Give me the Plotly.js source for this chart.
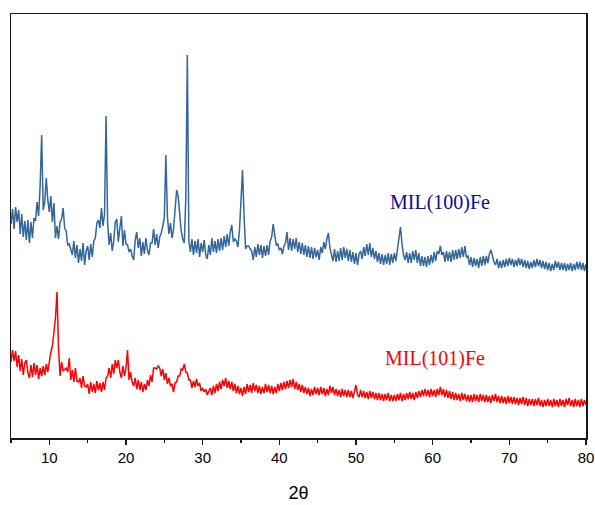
<!DOCTYPE html>
<html>
<head>
<meta charset="utf-8">
<script src="https://cdn.plot.ly/plotly-3.0.1.min.js"></script>
<style>html,body{margin:0;padding:0;background:#fff;}#chart{width:595px;height:505px;}</style>
</head>
<body>
<div id="chart"></div>
<script>
// 2θ sampling: start and step of the digitised patterns (degrees)
const twoThetaStart = 5;
const twoThetaStep = 0.2;
const xTickValues = [10, 20, 30, 40, 50, 60, 70, 80];

// MIL(100)Fe intensity (arbitrary units, offset trace), one value per 0.2° from 5° to 80°
const mil100Fe = [
  214,229,209,231,216,228,204,224,201,217,
  198,218,195,216,200,220,217,236,222,252,
  303,228,236,260,238,226,242,216,235,200,
  212,199,216,219,230,210,207,193,194,187,
  183,197,180,193,175,189,177,195,173,187,
  192,178,194,181,197,200,215,218,210,230,
  212,224,322,216,193,205,187,197,216,219,
  196,210,222,192,208,194,193,186,189,182,
  178,198,206,190,200,182,196,184,200,188,
  183,195,195,209,193,204,190,201,205,212,
  220,283,222,204,215,200,209,228,248,242,
  224,207,199,195,240,383,197,186,199,183,
  197,185,199,181,195,186,198,183,179,193,
  183,200,186,197,185,199,187,200,188,202,
  191,204,192,206,213,196,199,197,191,208,
  238,268,222,189,192,192,189,187,178,191,
  181,194,183,193,180,192,182,193,183,197,
  201,214,203,193,194,188,190,184,192,195,
  206,188,200,187,199,189,200,186,196,184,
  195,183,193,181,192,180,191,179,190,181,
  188,178,191,185,196,189,199,205,190,182,
  177,189,176,187,177,190,178,191,180,189,
  177,188,176,186,174,185,173,184,187,179,
  191,182,194,183,195,181,190,179,187,176,
  185,174,184,173,183,174,185,173,184,175,
  185,177,190,202,211,194,183,178,186,175,
  185,175,187,178,188,175,185,172,182,172,
  181,171,182,173,183,175,186,177,187,184,
  192,183,186,176,187,177,186,176,188,178,
  188,179,189,180,191,181,192,181,182,173,
  181,171,180,172,179,170,181,172,182,173,
  182,175,184,188,181,176,173,179,170,177,
  170,178,171,179,172,180,173,179,171,178,
  172,180,173,179,171,178,170,177,169,176,
  170,178,171,179,172,178,170,177,169,176,
  168,175,167,174,168,177,170,176,168,175,
  168,175,167,174,168,175,167,174,168,176,
  169,176,168,175,167,174
];

// MIL(101)Fe intensity (arbitrary units), one value per 0.2° from 5° to 80°
const mil101Fe = [
  76,88,77,87,71,83,67,79,63,75,
  78,65,60,73,61,75,63,73,59,70,
  62,72,63,74,66,77,86,92,104,120,
  146,90,62,76,67,69,70,66,80,58,
  68,56,70,57,56,60,50,62,52,51,
  54,44,56,46,54,45,57,48,55,46,
  56,48,60,62,70,60,74,64,78,70,
  78,66,60,72,62,70,88,58,66,56,
  52,60,49,58,48,56,46,54,48,58,
  52,63,56,70,70,69,72,70,62,69,
  58,65,54,60,52,54,46,55,56,62,
  62,69,68,74,66,65,58,58,50,57,
  51,59,52,55,47,50,46,49,43,47,
  50,43,52,45,54,47,56,49,58,52,
  60,50,57,49,56,47,54,45,52,44,
  50,42,51,44,54,46,53,45,55,47,
  53,45,52,44,51,45,54,46,53,45,
  52,44,51,45,54,47,55,48,56,49,
  57,50,58,51,59,49,56,48,54,46,
  53,45,51,44,50,42,49,43,51,44,
  50,43,51,44,50,42,49,43,52,45,
  51,43,49,42,48,41,49,42,48,41,
  48,41,47,40,46,53,43,41,48,41,
  47,40,46,39,47,40,46,39,45,38,
  45,38,44,37,44,38,45,37,43,37,
  43,37,44,38,45,37,44,38,45,39,
  46,39,45,38,46,40,47,41,48,42,
  49,42,48,41,49,42,48,41,49,43,
  51,43,49,41,48,40,47,39,46,38,
  45,38,44,37,45,38,44,37,43,36,
  43,36,44,37,43,36,44,37,43,36,
  43,36,42,35,43,37,44,36,42,35,
  42,35,41,34,42,35,41,34,41,34,
  40,33,40,34,41,33,40,32,39,33,
  39,32,39,33,40,32,38,31,38,32,
  39,32,38,31,39,32,38,31,39,32,
  38,31,39,33,40,32,38,31,39,32,
  38,31,39,32,38,33
];

const labels = ["MIL(100)Fe", "MIL(101)Fe"];
const lineColors = ["#336699", "#ff0000"];
const labelColors = ["#0a0a9c", "#ff0000"];
const labelX = [61.0, 60.3];
const labelY = [236, 80];

const traces = [mil100Fe, mil101Fe].map((ys, i) => ({
  type: "scatter",
  mode: "lines",
  x0: twoThetaStart,
  dx: twoThetaStep,
  y: ys,
  name: labels[i],
  line: {color: lineColors[i], width: 1.5},
  hoverinfo: "skip"
}));

const layout = {
  width: 595,
  height: 505,
  margin: {l: 11, r: 9, t: 14, b: 67},
  paper_bgcolor: "#ffffff",
  plot_bgcolor: "#ffffff",
  showlegend: false,
  font: {family: "Liberation Sans, Arial, sans-serif", color: "#000"},
  xaxis: {
    range: [5, 80],
    tickmode: "array",
    tickvals: xTickValues,
    ticktext: xTickValues.map(String),
    ticks: "outside",
    ticklen: 5,
    tickwidth: 1.3,
    tickcolor: "#1a1a1a",
    minor: {dtick: 5, tick0: 5, ticks: "outside", ticklen: 3, tickwidth: 1.3, tickcolor: "#1a1a1a", showgrid: false},
    showgrid: false,
    zeroline: false,
    showline: true,
    linecolor: "#1a1a1a",
    linewidth: 1.5,
    mirror: true,
    tickfont: {family: "Liberation Sans, Arial, sans-serif", size: 15, color: "#000"},
    title: {text: "2θ", font: {family: "Liberation Sans, Arial, sans-serif", size: 18, color: "#000"}, standoff: 22},
    automargin: false
  },
  yaxis: {
    range: [0, 424],
    showticklabels: false,
    ticks: "",
    showgrid: false,
    zeroline: false,
    showline: true,
    linecolor: "#1a1a1a",
    linewidth: 1.5,
    mirror: true,
    automargin: false
  },
  annotations: labels.map((t, i) => ({
    x: labelX[i], y: labelY[i], xref: "x", yref: "y",
    text: t, showarrow: false,
    font: {family: "Liberation Serif, Times New Roman, serif", size: 20, color: labelColors[i]},
    xanchor: "center", yanchor: "middle"
  }))
};

Plotly.newPlot("chart", traces, layout, {staticPlot: true, displayModeBar: false});
</script>
</body>
</html>
